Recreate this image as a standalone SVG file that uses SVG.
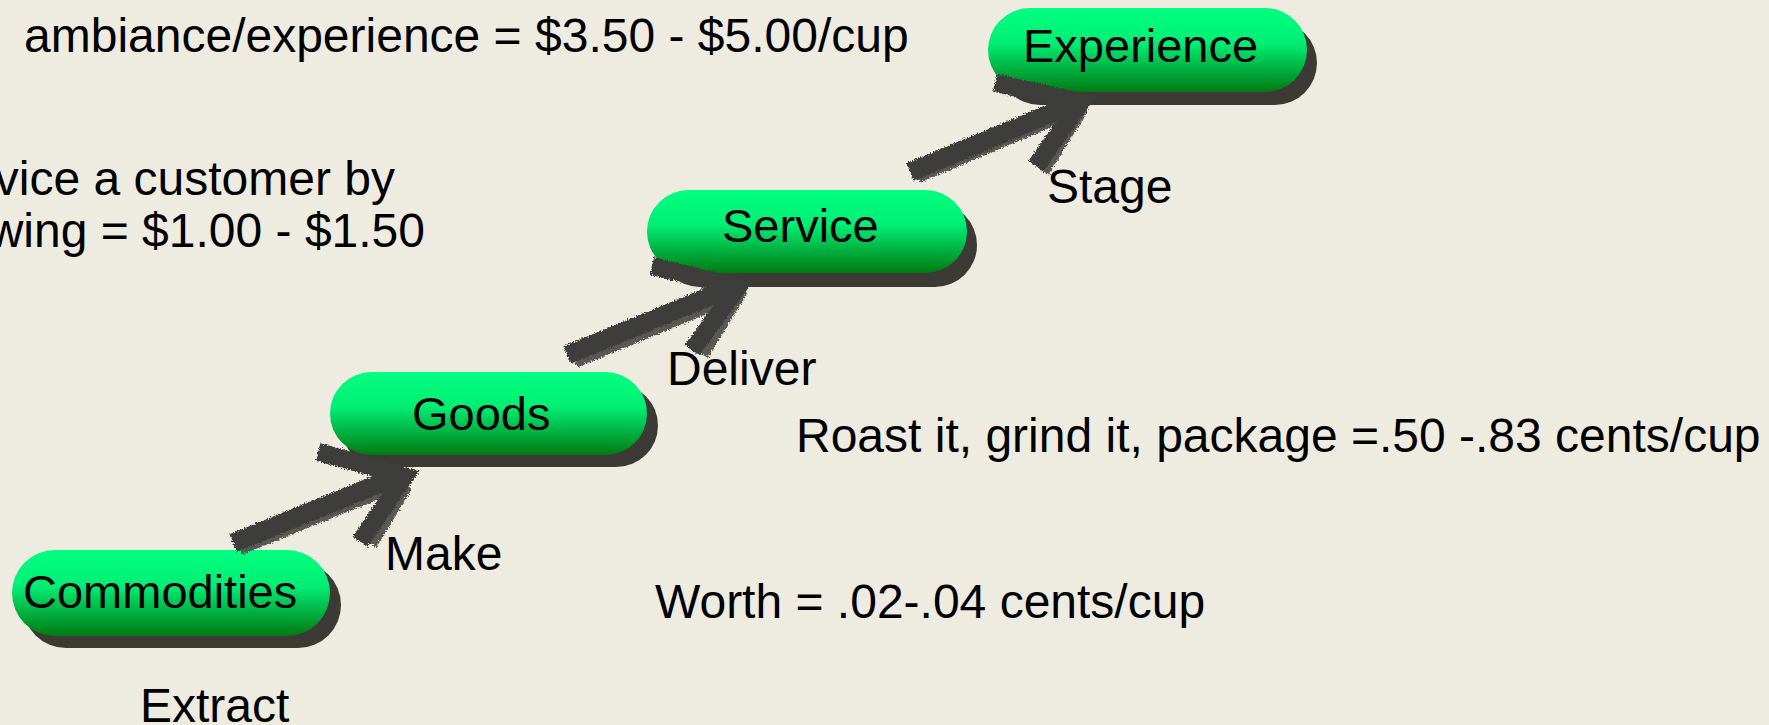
<svg xmlns="http://www.w3.org/2000/svg" width="1769" height="725" viewBox="0 0 1769 725">
<style>
.t{font-family:"Liberation Sans",Arial,sans-serif;font-size:48px;fill:#000}
.lbl{font-family:"Liberation Sans",Arial,sans-serif;font-size:47px;fill:#000}
.pill{fill:url(#g)}
.sh{fill:#3D3A35}
.ar{fill:none;stroke:#3E3D3B;stroke-linecap:butt;stroke-linejoin:miter}
.ar2{fill:none;stroke:#5A5955;stroke-linecap:butt}
</style>
<defs>
<linearGradient id="g" x1="0" y1="0" x2="0" y2="1">
<stop offset="0" stop-color="#00FF80"/>
<stop offset="0.42" stop-color="#00EE74"/>
<stop offset="1" stop-color="#007A12"/>
</linearGradient>
<filter id="brush" x="-10%" y="-20%" width="120%" height="140%">
<feTurbulence type="fractalNoise" baseFrequency="0.7" numOctaves="2" seed="3" result="n"/>
<feDisplacementMap in="SourceGraphic" in2="n" scale="5" xChannelSelector="R" yChannelSelector="G"/>
</filter>
</defs>
<rect width="1769" height="725" fill="#EEECE1"/>

<g id="n-commodities">
<rect class="sh" x="23" y="562" width="318" height="86" rx="43"/>
<rect class="pill" x="12" y="550" width="318" height="86" rx="43"/>
<text class="lbl" x="23" y="608">Commodities</text>
</g>
<g id="n-goods">
<rect class="sh" x="341" y="384" width="317" height="83" rx="41.5"/>
<rect class="pill" x="330" y="372" width="317" height="83" rx="41.5"/>
<text class="lbl" x="412" y="430">Goods</text>
</g>
<g id="n-service">
<rect class="sh" x="658" y="203" width="319" height="84" rx="42"/>
<rect class="pill" x="647" y="190" width="320" height="83" rx="41.5"/>
<text class="lbl" x="722" y="242">Service</text>
</g>
<g id="n-experience">
<rect class="sh" x="998" y="21" width="319" height="84" rx="42"/>
<rect class="pill" x="988" y="8" width="319" height="84" rx="42"/>
<text class="lbl" x="1023" y="62">Experience</text>
</g>

<g id="connectors" filter="url(#brush)">
<g id="c1">
<path class="ar2" stroke-width="10" d="M240 550 L398 486 M372 545 L408 486"/>
<path class="ar" stroke-width="19" d="M233 543 L398 476"/>
<path class="ar" stroke-width="18" d="M318 452 L405 476 L360 542"/>
</g>
<g id="c2">
<path class="ar2" stroke-width="12" d="M575 362 L732 297 M703 355 L742 290"/>
<path class="ar" stroke-width="19" d="M567 355 L730 288"/>
<path class="ar" stroke-width="18" d="M652 266 L738 287 L692 350"/>
</g>
<g id="c3">
<path class="ar2" stroke-width="10" d="M918 178 L1075 112 M1044 172 L1084 108"/>
<path class="ar" stroke-width="19" d="M910 172 L1073 104"/>
<path class="ar" stroke-width="18" d="M995 83 L1081 102 L1036 166"/>
</g>
</g>

<g id="labels">
<text class="t" x="24" y="52">ambiance/experience = $3.50 - $5.00/cup</text>
<text class="t" x="395" y="195" text-anchor="end">vice a customer by</text>
<text class="t" x="425" y="247" text-anchor="end">wing = $1.00 - $1.50</text>
<text class="t" x="1047" y="203">Stage</text>
<text class="t" x="667" y="385">Deliver</text>
<text class="t" x="796" y="452">Roast it, grind it, package =.50 -.83 cents/cup</text>
<text class="t" x="385" y="570">Make</text>
<text class="t" x="655" y="618">Worth = .02-.04 cents/cup</text>
<text class="t" x="140" y="722">Extract</text>
</g>
</svg>
